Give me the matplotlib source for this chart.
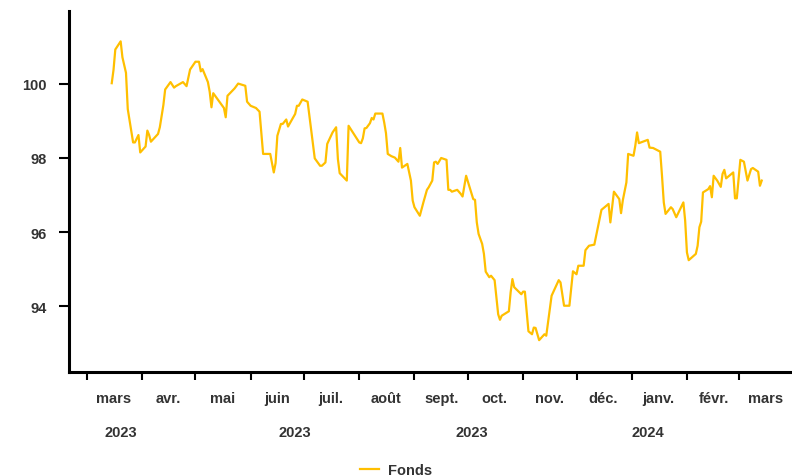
import matplotlib
matplotlib.use("Agg")
import matplotlib.pyplot as plt
import matplotlib.dates as mdates
import pandas as pd

plt.rcParams['font.family'] = ['Liberation Sans', 'DejaVu Sans']

dates = [
    "2023-03-15", "2023-03-16", "2023-03-17", "2023-03-20", "2023-03-21", "2023-03-23", "2023-03-24",
    "2023-03-27", "2023-03-28", "2023-03-30", "2023-03-31", "2023-04-03", "2023-04-04", "2023-04-05",
    "2023-04-06", "2023-04-10", "2023-04-11", "2023-04-13", "2023-04-14", "2023-04-17", "2023-04-19",
    "2023-04-20", "2023-04-24", "2023-04-26", "2023-04-28", "2023-05-01", "2023-05-03", "2023-05-04",
    "2023-05-05", "2023-05-08", "2023-05-09", "2023-05-10", "2023-05-11", "2023-05-14", "2023-05-17",
    "2023-05-18", "2023-05-19", "2023-05-23", "2023-05-25", "2023-05-29", "2023-05-30", "2023-06-01",
    "2023-06-04", "2023-06-06", "2023-06-08", "2023-06-12", "2023-06-14", "2023-06-15", "2023-06-16",
    "2023-06-18", "2023-06-19", "2023-06-21", "2023-06-22", "2023-06-26", "2023-06-27", "2023-06-28",
    "2023-06-30", "2023-07-03", "2023-07-04", "2023-07-06", "2023-07-07", "2023-07-10", "2023-07-11",
    "2023-07-13", "2023-07-14", "2023-07-17", "2023-07-19", "2023-07-20", "2023-07-21", "2023-07-25",
    "2023-07-26", "2023-08-01", "2023-08-02", "2023-08-03", "2023-08-04", "2023-08-05", "2023-08-07",
    "2023-08-08", "2023-08-09", "2023-08-10", "2023-08-14", "2023-08-15", "2023-08-16", "2023-08-17",
    "2023-08-19", "2023-08-21", "2023-08-23", "2023-08-24", "2023-08-25", "2023-08-28", "2023-08-30",
    "2023-08-31", "2023-09-01", "2023-09-04", "2023-09-06", "2023-09-08", "2023-09-09", "2023-09-11",
    "2023-09-12", "2023-09-13", "2023-09-14", "2023-09-16", "2023-09-19", "2023-09-20", "2023-09-21",
    "2023-09-22", "2023-09-25", "2023-09-27", "2023-09-28", "2023-09-29", "2023-09-30", "2023-10-02",
    "2023-10-04", "2023-10-05", "2023-10-06", "2023-10-07", "2023-10-09", "2023-10-10", "2023-10-11",
    "2023-10-13", "2023-10-14", "2023-10-16", "2023-10-18", "2023-10-19", "2023-10-20", "2023-10-24",
    "2023-10-25", "2023-10-26", "2023-10-27", "2023-10-31", "2023-11-01", "2023-11-02", "2023-11-04",
    "2023-11-06", "2023-11-07", "2023-11-08", "2023-11-10", "2023-11-13", "2023-11-14", "2023-11-17",
    "2023-11-21", "2023-11-22", "2023-11-24", "2023-11-27", "2023-11-29", "2023-12-01", "2023-12-02",
    "2023-12-05", "2023-12-06", "2023-12-08", "2023-12-11", "2023-12-13", "2023-12-15", "2023-12-19",
    "2023-12-20", "2023-12-22", "2023-12-25", "2023-12-26", "2023-12-27", "2023-12-29", "2023-12-30",
    "2024-01-02", "2024-01-03", "2024-01-04", "2024-01-05", "2024-01-10", "2024-01-11", "2024-01-13",
    "2024-01-17", "2024-01-18", "2024-01-19", "2024-01-20", "2024-01-23", "2024-01-24", "2024-01-26",
    "2024-01-30", "2024-01-31", "2024-02-01", "2024-02-02", "2024-02-06", "2024-02-07", "2024-02-08",
    "2024-02-09", "2024-02-10", "2024-02-13", "2024-02-14", "2024-02-15", "2024-02-16", "2024-02-18",
    "2024-02-20", "2024-02-21", "2024-02-22", "2024-02-23", "2024-02-27", "2024-02-28", "2024-02-29",
    "2024-03-02", "2024-03-04", "2024-03-06", "2024-03-08", "2024-03-09", "2024-03-12", "2024-03-13",
    "2024-03-14",
]

fonds = [
    100.02, 100.38, 100.93, 101.15, 100.72, 100.30, 99.32,
    98.42, 98.42, 98.62, 98.15, 98.31, 98.74, 98.62,
    98.44, 98.65, 98.83, 99.43, 99.85, 100.05, 99.90,
    99.94, 100.05, 99.94, 100.39, 100.60, 100.60, 100.34,
    100.40, 100.05, 99.79, 99.37, 99.75, 99.55, 99.35,
    99.10, 99.68, 99.88, 100.01, 99.95, 99.52, 99.41,
    99.35, 99.25, 98.11, 98.11, 97.61, 97.86, 98.60,
    98.92, 98.92, 99.04, 98.85, 99.19, 99.41, 99.41,
    99.58, 99.52, 99.14, 98.38, 97.99, 97.79, 97.79,
    97.88, 98.38, 98.69, 98.83, 97.97, 97.59, 97.39,
    98.87, 98.42, 98.40, 98.53, 98.80, 98.81, 98.94,
    99.08, 99.04, 99.20, 99.20, 98.96, 98.67, 98.11,
    98.05, 98.01, 97.90, 98.27, 97.74, 97.84, 97.39,
    96.85, 96.67, 96.44, 96.80, 97.14, 97.21, 97.39,
    97.88, 97.90, 97.84, 98.00, 97.95, 97.14, 97.14,
    97.09, 97.14, 97.03, 96.96, 97.24, 97.52, 97.21,
    96.89, 96.87, 96.26, 95.95, 95.68, 95.41, 94.93,
    94.78, 94.82, 94.70, 93.78, 93.63, 93.74, 93.86,
    94.37, 94.73, 94.51, 94.32, 94.39, 94.39, 93.32,
    93.24, 93.42, 93.41, 93.08, 93.24, 93.20, 94.28,
    94.70, 94.64, 94.01, 94.01, 94.94, 94.86, 95.09,
    95.09, 95.51, 95.63, 95.66, 96.13, 96.60, 96.76,
    96.26, 97.09, 96.89, 96.51, 96.86, 97.34, 98.11,
    98.06, 98.33, 98.69, 98.40, 98.49, 98.28, 98.27,
    98.17, 97.52, 96.80, 96.49, 96.67, 96.62, 96.40,
    96.80, 96.31, 95.45, 95.24, 95.41, 95.63, 96.13,
    96.28, 97.07, 97.16, 97.24, 96.94, 97.52, 97.39,
    97.22, 97.57, 97.68, 97.45, 97.61, 96.91, 96.91,
    97.95, 97.90, 97.39, 97.70, 97.73, 97.63, 97.25,
    97.39,
]

month_labels = ["mars", "avr.", "mai", "juin", "juil.", "août", "sept.", "oct.",
                "nov.", "déc.", "janv.", "févr.", "mars"]
year_labels = ["2023", "2023", "2023", "2024"]
year_label_dates = ["2023-03-20", "2023-06-26", "2023-10-03", "2024-01-10"]
series_name = "Fonds"

x = pd.to_datetime(dates)
line_color = "#FFBF00"
text_color = "#333333"

fig = plt.figure(figsize=(7.92, 4.77), dpi=100)
ax = fig.add_axes([69 / 792, 1 - 373 / 477, 1 - 69 / 792, (373 - 12) / 477])

ax.plot(x, fonds, color=line_color, linewidth=1.6, label=series_name)

ax.set_xlim(pd.Timestamp("2023-02-19"), pd.Timestamp("2024-03-31"))
ax.set_ylim(92.22, 101.97)

# major ticks: month starts (marks only)
month_starts = pd.date_range("2023-03-01", "2024-03-01", freq="MS")
ax.set_xticks(month_starts)
ax.set_xticklabels([""] * len(month_starts))
# minor ticks: labels mid-month
mids = month_starts + pd.Timedelta(days=15)
ax.set_xticks(mids, minor=True)
ax.set_xticklabels(month_labels, minor=True)
ax.tick_params(axis='x', which='major', length=6, width=1.5, color='black', direction='out')
ax.tick_params(axis='x', which='minor', length=0, pad=14, labelsize=10.5, labelcolor=text_color)
for lbl in ax.get_xticklabels(minor=True):
    lbl.set_fontweight('bold')

ax.set_yticks([94, 96, 98, 100])
ax.set_yticklabels(["94", "96", "98", "100"])
ax.tick_params(axis='y', length=7, width=1.5, color='black', direction='out', pad=9,
               labelsize=10.5, labelcolor=text_color)
for lbl in ax.get_yticklabels():
    lbl.set_fontweight('bold')

for yl, yd in zip(year_labels, year_label_dates):
    ax.annotate(yl, xy=(mdates.date2num(pd.Timestamp(yd)), 0), xycoords=('data', 'axes fraction'),
                xytext=(0, -43.5), textcoords='offset points', ha='center', va='center',
                fontsize=10.5, fontweight='bold', color=text_color, annotation_clip=False)

for s in ['top', 'right']:
    ax.spines[s].set_visible(False)
for s in ['left', 'bottom']:
    ax.spines[s].set_linewidth(2.2)
    ax.spines[s].set_color('black')

leg = fig.legend(loc='center', bbox_to_anchor=(0.5, 1 - 471 / 477), ncol=1, frameon=False,
                 handlelength=1.3, handletextpad=0.6,
                 prop={'weight': 'bold', 'size': 10.5})
for t in leg.get_texts():
    t.set_color(text_color)

fig.savefig("out.png", dpi=100)
